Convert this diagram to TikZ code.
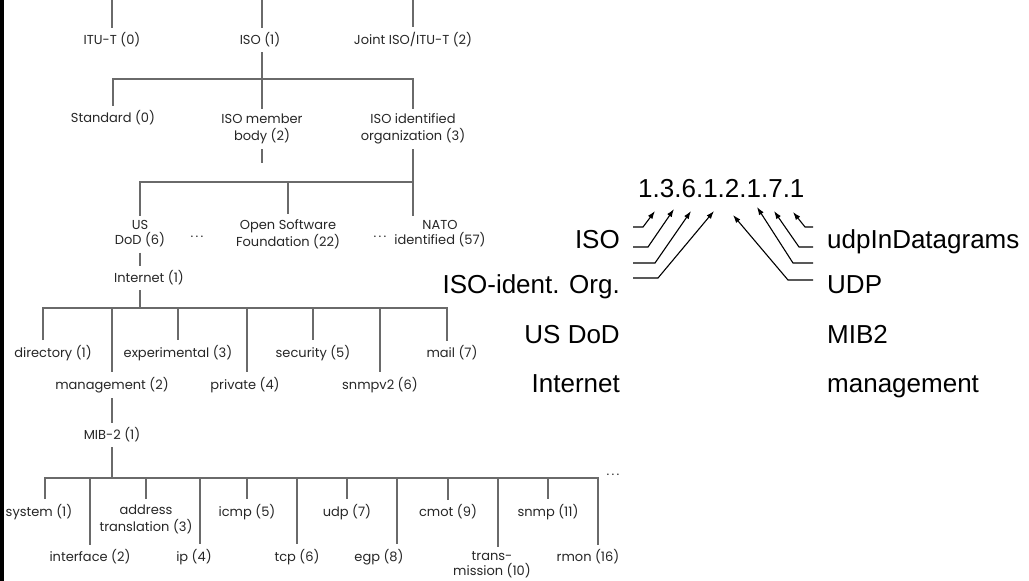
\documentclass[tikz,border=0pt]{standalone}
\usepackage{fontspec}
\setmainfont{Liberation Sans}
\newfontfamily\treefont{Poppins}
\usetikzlibrary{arrows.meta, positioning, calc}
\definecolor{tline}{HTML}{6A6A6A}
\definecolor{ttext}{HTML}{262626}
\tikzset{
  leaf/.style={font=\treefont\fontsize{13}{15}\selectfont, text=ttext, align=center, inner xsep=1pt, inner ysep=5pt},
  branch/.style={draw=tline, line width=1.1pt},
  oid/.style={font=\fontsize{26}{30}\selectfont, inner sep=0pt},
  oidarrow/.style={-{Latex[length=8pt, width=5.5pt]}, line width=1.1pt},
}

\begin{document}
\begin{tikzpicture}[x=1pt, y=-1pt]
  \useasboundingbox (0,0) rectangle (1029,581);
  \fill[black] (0,0) rectangle (4,581);
  % top level
  \coordinate (root) at (262,0);
  \node[leaf] (itu) at (112,40) {ITU-T (0)};
  \node[leaf] (iso) at (260,40) {ISO (1)};
  \node[leaf] (joint) at (413,40) {Joint ISO/ITU-T (2)};
  \draw[branch] (itu.north |- root) -- (itu.north);
  \draw[branch] ([xshift=2pt]iso.north |- root) -- ([xshift=2pt]iso.north);
  \draw[branch] (joint.north |- root) -- (joint.north);
  % under ISO
  \coordinate (bus1) at (262,79);
  \node[leaf] (std) at (113,118) {Standard (0)};
  \node[leaf] (member) at (262,129) {ISO member\\[2pt]body (2)};
  \node[leaf] (ident) at (413,129) {ISO identified\\[2pt]organization (3)};
  \draw[branch] ([xshift=2pt]iso.south) -- (bus1);
  \draw[branch] (std.north) |- (ident.north |- bus1) -- (ident.north);
  \draw[branch] (member.north |- bus1) -- (member.north);
  \coordinate (stub) at (262,163);
  \draw[branch] (member.south) -- (stub);
  % organizations
  \coordinate (bus2) at (413,182);
  \node[leaf] (usdod) at (140,234) {US\\DoD (6)};
  \node[leaf] (dots1) at (197,237) {.\,.\,.};
  \node[leaf] (osf) at (288,234) {Open Software\\Foundation (22)};
  \node[leaf] (dots2) at (380,237) {.\,.\,.};
  \node[leaf] (nato) at (440,234) {NATO\\identified (57)};
  \draw[branch] (ident.south) -- (bus2);
  \draw[branch] (usdod.north) |- ([xshift=-27pt]nato.north |- bus2) -- ([xshift=-27pt]nato.north);
  \draw[branch] (osf.north |- bus2) -- (osf.north);
  % internet
  \node[leaf] (internet) at (149,278) {Internet (1)};
  \draw[branch] (usdod.south) -- ([xshift=-9pt]internet.north);
  \coordinate (bus3) at (140,308);
  \node[leaf] (dir) at (53,353) {directory (1)};
  \node[leaf] (exp) at (178,353) {experimental (3)};
  \node[leaf] (sec) at (313,353) {security (5)};
  \node[leaf] (mail) at (452,353) {mail (7)};
  \node[leaf] (mgmt) at (112,385) {management (2)};
  \node[leaf] (priv) at (245,385) {private (4)};
  \node[leaf] (snmpv) at (380,385) {snmpv2 (6)};
  \draw[branch] ([xshift=-9pt]internet.south) -- (bus3);
  \draw[branch] ([xshift=-10pt]dir.north) |- ([xshift=-5pt]mail.north |- bus3) -- ([xshift=-5pt]mail.north);
  \draw[branch] (mgmt.north |- bus3) -- (mgmt.north);
  \draw[branch] (exp.north |- bus3) -- (exp.north);
  \draw[branch] ([xshift=2pt]priv.north |- bus3) -- ([xshift=2pt]priv.north);
  \draw[branch] (sec.north |- bus3) -- (sec.north);
  \draw[branch] (snmpv.north |- bus3) -- (snmpv.north);
  % mib-2
  \node[leaf] (mib) at (112,435) {MIB-2 (1)};
  \draw[branch] (mgmt.south) -- (mib.north);
  \coordinate (bus4) at (112,478);
  \node[leaf] (sys) at (39,512) {system (1)};
  \node[leaf] (at) at (146,519) {address\\[2pt]translation (3)};
  \node[leaf] (icmp) at (247,512) {icmp (5)};
  \node[leaf] (udp) at (347,512) {udp (7)};
  \node[leaf] (cmot) at (448,512) {cmot (9)};
  \node[leaf] (snmp) at (548,512) {snmp (11)};
  \node[leaf] (iface) at (90,557) {interface (2)};
  \node[leaf] (ip) at (194,557) {ip (4)};
  \node[leaf] (tcp) at (297,557) {tcp (6)};
  \node[leaf] (egp) at (379,557) {egp (8)};
  \node[leaf] (trans) at (492,565) {trans-\\mission (10)};
  \node[leaf] (rmon) at (588,557) {rmon (16)};
  \node[leaf] (dots3) at (613,475) {.\,.\,.};
  \draw[branch] (mib.south) -- (bus4);
  \draw[branch] ([xshift=6pt]sys.north) |- ([xshift=10pt]rmon.north |- bus4) -- ([xshift=10pt]rmon.north);
  \draw[branch] (iface.north |- bus4) -- (iface.north);
  \draw[branch] (at.north |- bus4) -- (at.north);
  \draw[branch] ([xshift=6pt]ip.north |- bus4) -- ([xshift=6pt]ip.north);
  \draw[branch] (icmp.north |- bus4) -- (icmp.north);
  \draw[branch] (tcp.north |- bus4) -- (tcp.north);
  \draw[branch] (udp.north |- bus4) -- (udp.north);
  \draw[branch] ([xshift=18pt]egp.north |- bus4) -- ([xshift=18pt]egp.north);
  \draw[branch] (cmot.north |- bus4) -- (cmot.north);
  \draw[branch] ([xshift=6pt]trans.north |- bus4) -- ([xshift=6pt]trans.north);
  \draw[branch] (snmp.north |- bus4) -- (snmp.north);
  % object identifier
  \node[oid, anchor=base west] (oidnum) at (638,197) {1.3.6.1.2.1.7.1};
  \node[oid, anchor=base east] (liso) at (620,248) {ISO};
  \node[oid, anchor=base east] (lorg) at (620,293) {ISO-ident. Org.};
  \node[oid, anchor=base east] (ldod) at (620,343) {US DoD};
  \node[oid, anchor=base east] (linet) at (620,392) {Internet};
  \node[oid, anchor=base west] (ludp1) at (827,248) {udpInDatagrams};
  \node[oid, anchor=base west] (ludp) at (827,293) {UDP};
  \node[oid, anchor=base west] (lmib) at (827,343) {MIB2};
  \node[oid, anchor=base west] (lmgmt) at (827,392) {management};
  \coordinate (s1) at (633,227); \coordinate (t1) at (655,211);
  \coordinate (s2) at (633,247); \coordinate (t2) at (674,209);
  \coordinate (s3) at (633,263); \coordinate (t3) at (691,211);
  \coordinate (s4) at (633,278); \coordinate (t4) at (714,211);
  \coordinate (s5) at (813,280); \coordinate (t5) at (733,215);
  \coordinate (s6) at (813,263); \coordinate (t6) at (757,207);
  \coordinate (s7) at (813,247); \coordinate (t7) at (774,211);
  \coordinate (s8) at (813,227); \coordinate (t8) at (793,212);
  \draw[oidarrow] (s1) -- ++(10,0) -- (t1);
  \draw[oidarrow] (s2) -- ++(15,0) -- (t2);
  \draw[oidarrow] (s3) -- ++(22,0) -- (t3);
  \draw[oidarrow] (s4) -- ++(25,0) -- (t4);
  \draw[oidarrow] (s5) -- ++(-25,0) -- (t5);
  \draw[oidarrow] (s6) -- ++(-20,0) -- (t6);
  \draw[oidarrow] (s7) -- ++(-14,0) -- (t7);
  \draw[oidarrow] (s8) -- ++(-8,0) -- (t8);
\end{tikzpicture}
\end{document}
